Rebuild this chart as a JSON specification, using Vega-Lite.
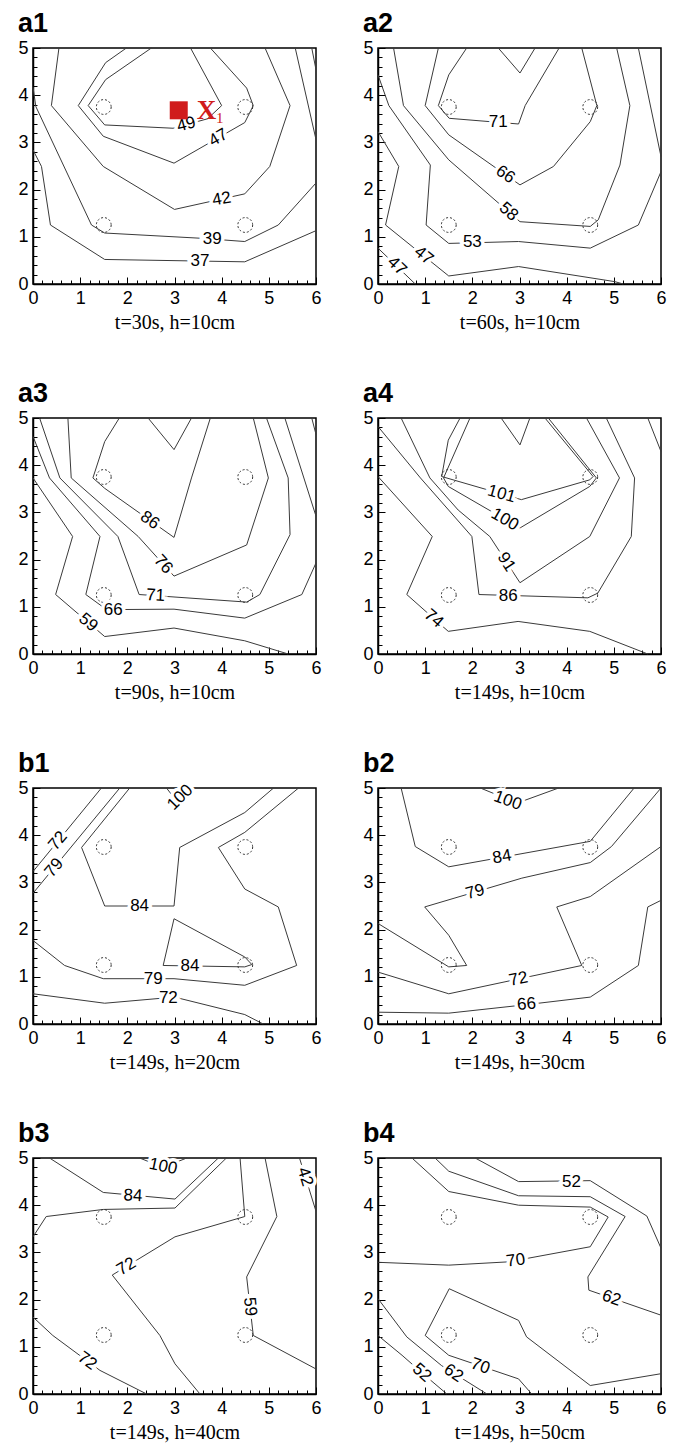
{
"$schema":"https://vega.github.io/schema/vega-lite/v6.json",
"background":"white",
"padding":{"left":17,"top":9,"right":0,"bottom":0},
"datasets":{
"circles":[{"x":1.5,"y":1.25},{"x":4.5,"y":1.25},{"x":1.5,"y":3.75},{"x":4.5,"y":3.75}],
"lines":[
{"p":"a1","c":1,"i":1,"x":0,"y":2.84},{"p":"a1","c":1,"i":2,"x":0.18,"y":2.49},{"p":"a1","c":1,"i":3,"x":0.37,"y":1.25},{"p":"a1","c":1,"i":4,"x":1.52,"y":0.52},{"p":"a1","c":1,"i":5,"x":4.49,"y":0.47},{"p":"a1","c":1,"i":6,"x":6,"y":1.13},
{"p":"a1","c":2,"i":1,"x":0,"y":4.17},{"p":"a1","c":2,"i":2,"x":0.06,"y":3.76},{"p":"a1","c":2,"i":3,"x":1.24,"y":1.25},{"p":"a1","c":2,"i":4,"x":1.52,"y":1.08},{"p":"a1","c":2,"i":5,"x":3.54,"y":0.97},{"p":"a1","c":2,"i":6,"x":4.49,"y":0.9},{"p":"a1","c":2,"i":7,"x":5.2,"y":1.25},{"p":"a1","c":2,"i":8,"x":6,"y":2.14},
{"p":"a1","c":3,"i":1,"x":0.55,"y":5},{"p":"a1","c":3,"i":2,"x":0.39,"y":3.78},{"p":"a1","c":3,"i":3,"x":1.49,"y":2.49},{"p":"a1","c":3,"i":4,"x":3.0,"y":1.58},{"p":"a1","c":3,"i":5,"x":4.49,"y":1.91},{"p":"a1","c":3,"i":6,"x":5.02,"y":2.49},{"p":"a1","c":3,"i":7,"x":5.45,"y":3.78},{"p":"a1","c":3,"i":8,"x":4.92,"y":5},
{"p":"a1","c":4,"i":1,"x":1.98,"y":5},{"p":"a1","c":4,"i":2,"x":1.54,"y":4.69},{"p":"a1","c":4,"i":3,"x":0.96,"y":3.78},{"p":"a1","c":4,"i":4,"x":1.49,"y":3.13},{"p":"a1","c":4,"i":5,"x":2.99,"y":2.56},{"p":"a1","c":4,"i":6,"x":4.49,"y":3.42},{"p":"a1","c":4,"i":7,"x":4.67,"y":3.78},{"p":"a1","c":4,"i":8,"x":4.53,"y":4.15},{"p":"a1","c":4,"i":9,"x":3.76,"y":5},
{"p":"a1","c":5,"i":1,"x":2.51,"y":5},{"p":"a1","c":5,"i":2,"x":1.54,"y":4.33},{"p":"a1","c":5,"i":3,"x":1.17,"y":3.78},{"p":"a1","c":5,"i":4,"x":1.52,"y":3.37},{"p":"a1","c":5,"i":5,"x":2.97,"y":3.3},{"p":"a1","c":5,"i":6,"x":3.7,"y":3.5},{"p":"a1","c":5,"i":7,"x":4.0,"y":3.78},{"p":"a1","c":5,"i":8,"x":3.34,"y":5},
{"p":"a1","c":6,"i":1,"x":5.56,"y":5},{"p":"a1","c":6,"i":2,"x":6,"y":3.06},
{"p":"a1","c":7,"i":1,"x":5.91,"y":5},{"p":"a1","c":7,"i":2,"x":6,"y":4.54},

{"p":"a2","c":1,"i":1,"x":0,"y":0.76},{"p":"a2","c":1,"i":2,"x":0.79,"y":0},
{"p":"a2","c":2,"i":1,"x":0,"y":3.23},{"p":"a2","c":2,"i":2,"x":0.44,"y":2.49},{"p":"a2","c":2,"i":3,"x":0.16,"y":1.25},{"p":"a2","c":2,"i":4,"x":1.5,"y":0.17},{"p":"a2","c":2,"i":5,"x":2.98,"y":0.37},{"p":"a2","c":2,"i":6,"x":5.02,"y":0.05},{"p":"a2","c":2,"i":7,"x":5.2,"y":0},
{"p":"a2","c":3,"i":1,"x":0,"y":4.43},{"p":"a2","c":3,"i":2,"x":0.23,"y":3.78},{"p":"a2","c":3,"i":3,"x":1.11,"y":2.52},{"p":"a2","c":3,"i":4,"x":1.02,"y":1.25},{"p":"a2","c":3,"i":5,"x":1.5,"y":0.86},{"p":"a2","c":3,"i":6,"x":2.98,"y":0.9},{"p":"a2","c":3,"i":7,"x":4.5,"y":0.76},{"p":"a2","c":3,"i":8,"x":5.52,"y":1.25},{"p":"a2","c":3,"i":9,"x":6,"y":2.38},
{"p":"a2","c":4,"i":1,"x":0.33,"y":5},{"p":"a2","c":4,"i":2,"x":0.54,"y":3.78},{"p":"a2","c":4,"i":3,"x":1.5,"y":2.63},{"p":"a2","c":4,"i":4,"x":3.01,"y":1.32},{"p":"a2","c":4,"i":5,"x":4.5,"y":1.22},{"p":"a2","c":4,"i":6,"x":4.67,"y":1.36},{"p":"a2","c":4,"i":7,"x":5.13,"y":2.52},{"p":"a2","c":4,"i":8,"x":5.34,"y":3.78},{"p":"a2","c":4,"i":9,"x":5.06,"y":5},
{"p":"a2","c":5,"i":1,"x":1.28,"y":5},{"p":"a2","c":5,"i":2,"x":1.0,"y":3.78},{"p":"a2","c":5,"i":3,"x":1.5,"y":3.16},{"p":"a2","c":5,"i":4,"x":3.01,"y":2.1},{"p":"a2","c":5,"i":5,"x":3.72,"y":2.49},{"p":"a2","c":5,"i":6,"x":4.5,"y":3.44},{"p":"a2","c":5,"i":7,"x":4.64,"y":3.78},{"p":"a2","c":5,"i":8,"x":4.32,"y":5},
{"p":"a2","c":6,"i":1,"x":1.88,"y":5},{"p":"a2","c":6,"i":2,"x":1.5,"y":4.43},{"p":"a2","c":6,"i":3,"x":1.28,"y":3.78},{"p":"a2","c":6,"i":4,"x":1.51,"y":3.51},{"p":"a2","c":6,"i":5,"x":2.98,"y":3.39},{"p":"a2","c":6,"i":6,"x":3.12,"y":3.78},{"p":"a2","c":6,"i":7,"x":3.84,"y":5},
{"p":"a2","c":7,"i":1,"x":2.55,"y":5},{"p":"a2","c":7,"i":2,"x":3.01,"y":4.47},{"p":"a2","c":7,"i":3,"x":3.33,"y":5},
{"p":"a2","c":8,"i":1,"x":5.52,"y":5},{"p":"a2","c":8,"i":2,"x":6,"y":2.7},

{"p":"a3","c":1,"i":1,"x":0,"y":3.73},{"p":"a3","c":1,"i":2,"x":0.84,"y":2.49},{"p":"a3","c":1,"i":3,"x":0.48,"y":1.26},{"p":"a3","c":1,"i":4,"x":1.52,"y":0.37},{"p":"a3","c":1,"i":5,"x":2.99,"y":0.55},{"p":"a3","c":1,"i":6,"x":4.49,"y":0.28},{"p":"a3","c":1,"i":7,"x":5.41,"y":0},
{"p":"a3","c":2,"i":1,"x":0,"y":4.61},{"p":"a3","c":2,"i":2,"x":0.35,"y":3.73},{"p":"a3","c":2,"i":3,"x":1.42,"y":2.49},{"p":"a3","c":2,"i":4,"x":1.12,"y":1.26},{"p":"a3","c":2,"i":5,"x":1.56,"y":0.94},{"p":"a3","c":2,"i":6,"x":2.99,"y":0.95},{"p":"a3","c":2,"i":7,"x":4.49,"y":0.76},{"p":"a3","c":2,"i":8,"x":5.7,"y":1.26},{"p":"a3","c":2,"i":9,"x":6,"y":1.93},
{"p":"a3","c":3,"i":1,"x":0.14,"y":5},{"p":"a3","c":3,"i":2,"x":0.57,"y":3.73},{"p":"a3","c":3,"i":3,"x":1.8,"y":2.49},{"p":"a3","c":3,"i":4,"x":2.25,"y":1.26},{"p":"a3","c":3,"i":5,"x":4.53,"y":1.1},{"p":"a3","c":3,"i":6,"x":4.81,"y":1.26},{"p":"a3","c":3,"i":7,"x":5.45,"y":2.53},{"p":"a3","c":3,"i":8,"x":5.41,"y":3.73},{"p":"a3","c":3,"i":9,"x":4.95,"y":5},
{"p":"a3","c":4,"i":1,"x":0.74,"y":5},{"p":"a3","c":4,"i":2,"x":0.81,"y":3.73},{"p":"a3","c":4,"i":3,"x":2.23,"y":2.49},{"p":"a3","c":4,"i":4,"x":2.99,"y":1.65},{"p":"a3","c":4,"i":5,"x":4.53,"y":2.31},{"p":"a3","c":4,"i":6,"x":4.99,"y":3.73},{"p":"a3","c":4,"i":7,"x":4.67,"y":5},
{"p":"a3","c":5,"i":1,"x":1.83,"y":5},{"p":"a3","c":5,"i":2,"x":1.52,"y":4.5},{"p":"a3","c":5,"i":3,"x":1.27,"y":3.73},{"p":"a3","c":5,"i":4,"x":1.52,"y":3.51},{"p":"a3","c":5,"i":5,"x":2.99,"y":2.47},{"p":"a3","c":5,"i":6,"x":3.36,"y":3.73},{"p":"a3","c":5,"i":7,"x":3.76,"y":5},
{"p":"a3","c":6,"i":1,"x":2.44,"y":5},{"p":"a3","c":6,"i":2,"x":2.99,"y":4.33},{"p":"a3","c":6,"i":3,"x":3.36,"y":5},
{"p":"a3","c":7,"i":1,"x":5.34,"y":5},{"p":"a3","c":7,"i":2,"x":6,"y":2.92},
{"p":"a3","c":8,"i":1,"x":5.91,"y":5},{"p":"a3","c":8,"i":2,"x":6,"y":4.65},

{"p":"a4","c":1,"i":1,"x":0,"y":3.76},{"p":"a4","c":1,"i":2,"x":1.15,"y":2.49},{"p":"a4","c":1,"i":3,"x":0.61,"y":1.26},{"p":"a4","c":1,"i":4,"x":1.49,"y":0.48},{"p":"a4","c":1,"i":5,"x":2.97,"y":0.69},{"p":"a4","c":1,"i":6,"x":4.49,"y":0.48},{"p":"a4","c":1,"i":7,"x":5.72,"y":0},
{"p":"a4","c":2,"i":1,"x":0,"y":4.82},{"p":"a4","c":2,"i":2,"x":0.9,"y":3.73},{"p":"a4","c":2,"i":3,"x":1.99,"y":2.49},{"p":"a4","c":2,"i":4,"x":2.14,"y":1.26},{"p":"a4","c":2,"i":5,"x":4.45,"y":1.19},{"p":"a4","c":2,"i":6,"x":4.66,"y":1.29},{"p":"a4","c":2,"i":7,"x":5.37,"y":2.49},{"p":"a4","c":2,"i":8,"x":5.44,"y":3.73},{"p":"a4","c":2,"i":9,"x":4.84,"y":5},
{"p":"a4","c":3,"i":1,"x":0.49,"y":5},{"p":"a4","c":3,"i":2,"x":1.1,"y":3.73},{"p":"a4","c":3,"i":3,"x":1.7,"y":3.05},{"p":"a4","c":3,"i":4,"x":2.37,"y":2.49},{"p":"a4","c":3,"i":5,"x":3.01,"y":1.51},{"p":"a4","c":3,"i":6,"x":4.49,"y":2.49},{"p":"a4","c":3,"i":7,"x":5.12,"y":3.73},{"p":"a4","c":3,"i":8,"x":4.42,"y":5},
{"p":"a4","c":4,"i":1,"x":1.95,"y":5},{"p":"a4","c":4,"i":2,"x":1.39,"y":3.73},{"p":"a4","c":4,"i":3,"x":1.49,"y":3.55},{"p":"a4","c":4,"i":4,"x":3.01,"y":2.67},{"p":"a4","c":4,"i":5,"x":4.49,"y":3.55},{"p":"a4","c":4,"i":6,"x":4.63,"y":3.73},{"p":"a4","c":4,"i":7,"x":3.61,"y":5},
{"p":"a4","c":5,"i":1,"x":1.74,"y":5},{"p":"a4","c":5,"i":2,"x":1.49,"y":4.53},{"p":"a4","c":5,"i":3,"x":1.35,"y":3.76},{"p":"a4","c":5,"i":4,"x":3.04,"y":3.27},{"p":"a4","c":5,"i":5,"x":4.49,"y":3.69},{"p":"a4","c":5,"i":6,"x":4.56,"y":3.76},{"p":"a4","c":5,"i":7,"x":3.54,"y":5},
{"p":"a4","c":6,"i":1,"x":2.61,"y":5},{"p":"a4","c":6,"i":2,"x":3.01,"y":4.43},{"p":"a4","c":6,"i":3,"x":3.22,"y":5},
{"p":"a4","c":7,"i":1,"x":5.72,"y":5},{"p":"a4","c":7,"i":2,"x":6,"y":4.29},

{"p":"b1","c":1,"i":1,"x":0,"y":0.64},{"p":"b1","c":1,"i":2,"x":1.52,"y":0.44},{"p":"b1","c":1,"i":3,"x":3.0,"y":0.57},{"p":"b1","c":1,"i":4,"x":4.49,"y":0.2},{"p":"b1","c":1,"i":5,"x":4.88,"y":0},
{"p":"b1","c":2,"i":1,"x":0,"y":1.77},{"p":"b1","c":2,"i":2,"x":0.67,"y":1.24},{"p":"b1","c":2,"i":3,"x":1.49,"y":0.96},{"p":"b1","c":2,"i":4,"x":2.99,"y":0.96},{"p":"b1","c":2,"i":5,"x":4.49,"y":0.82},{"p":"b1","c":2,"i":6,"x":5.59,"y":1.24},{"p":"b1","c":2,"i":7,"x":5.2,"y":2.48},{"p":"b1","c":2,"i":8,"x":4.49,"y":2.86},{"p":"b1","c":2,"i":9,"x":3.93,"y":3.74},{"p":"b1","c":2,"i":10,"x":4.49,"y":4.06},{"p":"b1","c":2,"i":11,"x":5.63,"y":5},
{"p":"b1","c":3,"i":1,"x":2.99,"y":2.23},{"p":"b1","c":3,"i":2,"x":2.76,"y":1.24},{"p":"b1","c":3,"i":3,"x":4.49,"y":1.21},{"p":"b1","c":3,"i":4,"x":4.64,"y":1.26},{"p":"b1","c":3,"i":5,"x":4.49,"y":1.42},{"p":"b1","c":3,"i":6,"x":2.99,"y":2.23},
{"p":"b1","c":4,"i":1,"x":2.05,"y":5},{"p":"b1","c":4,"i":2,"x":1.03,"y":3.74},{"p":"b1","c":4,"i":3,"x":1.52,"y":2.5},{"p":"b1","c":4,"i":4,"x":2.99,"y":2.5},{"p":"b1","c":4,"i":5,"x":3.11,"y":3.74},{"p":"b1","c":4,"i":6,"x":4.49,"y":4.48},{"p":"b1","c":4,"i":7,"x":5.1,"y":5},
{"p":"b1","c":5,"i":1,"x":2.83,"y":5},{"p":"b1","c":5,"i":2,"x":2.97,"y":4.82},{"p":"b1","c":5,"i":3,"x":3.2,"y":4.78},{"p":"b1","c":5,"i":4,"x":3.4,"y":5},
{"p":"b1","c":6,"i":1,"x":0,"y":3.23},{"p":"b1","c":6,"i":2,"x":1.45,"y":5},
{"p":"b1","c":7,"i":1,"x":0,"y":2.77},{"p":"b1","c":7,"i":2,"x":1.84,"y":5},

{"p":"b2","c":1,"i":1,"x":0,"y":0.25},{"p":"b2","c":1,"i":2,"x":1.5,"y":0.23},{"p":"b2","c":1,"i":3,"x":3.15,"y":0.41},{"p":"b2","c":1,"i":4,"x":4.5,"y":0.57},{"p":"b2","c":1,"i":5,"x":5.52,"y":1.24},{"p":"b2","c":1,"i":6,"x":5.72,"y":2.48},{"p":"b2","c":1,"i":7,"x":6,"y":2.62},
{"p":"b2","c":2,"i":1,"x":0,"y":1.1},{"p":"b2","c":2,"i":2,"x":1.5,"y":0.64},{"p":"b2","c":2,"i":3,"x":4.32,"y":1.24},{"p":"b2","c":2,"i":4,"x":3.79,"y":2.48},{"p":"b2","c":2,"i":5,"x":4.5,"y":2.7},{"p":"b2","c":2,"i":6,"x":6,"y":3.76},
{"p":"b2","c":3,"i":1,"x":0,"y":2.13},{"p":"b2","c":3,"i":2,"x":1.5,"y":1.21},{"p":"b2","c":3,"i":3,"x":1.88,"y":1.24},{"p":"b2","c":3,"i":4,"x":1.5,"y":1.88},{"p":"b2","c":3,"i":5,"x":0.99,"y":2.48},{"p":"b2","c":3,"i":6,"x":3.05,"y":3.09},{"p":"b2","c":3,"i":7,"x":4.5,"y":3.42},{"p":"b2","c":3,"i":8,"x":4.95,"y":3.76},{"p":"b2","c":3,"i":9,"x":6,"y":5},
{"p":"b2","c":4,"i":1,"x":0.49,"y":5},{"p":"b2","c":4,"i":2,"x":0.79,"y":3.76},{"p":"b2","c":4,"i":3,"x":1.5,"y":3.33},{"p":"b2","c":4,"i":4,"x":4.5,"y":3.87},{"p":"b2","c":4,"i":5,"x":5.43,"y":5},
{"p":"b2","c":5,"i":1,"x":2.17,"y":5},{"p":"b2","c":5,"i":2,"x":2.95,"y":4.68},{"p":"b2","c":5,"i":3,"x":3.83,"y":5},

{"p":"b3","c":1,"i":1,"x":0,"y":1.63},{"p":"b3","c":1,"i":2,"x":0.42,"y":1.24},{"p":"b3","c":1,"i":3,"x":1.42,"y":0.5},{"p":"b3","c":1,"i":4,"x":2.41,"y":0},
{"p":"b3","c":2,"i":1,"x":3.54,"y":0},{"p":"b3","c":2,"i":2,"x":3.01,"y":0.64},{"p":"b3","c":2,"i":3,"x":2.69,"y":1.24},{"p":"b3","c":2,"i":4,"x":1.68,"y":2.52},{"p":"b3","c":2,"i":5,"x":3.01,"y":3.33},{"p":"b3","c":2,"i":6,"x":4.49,"y":3.76},{"p":"b3","c":2,"i":7,"x":4.39,"y":5},
{"p":"b3","c":3,"i":1,"x":4.92,"y":5},{"p":"b3","c":3,"i":2,"x":5.17,"y":3.76},{"p":"b3","c":3,"i":3,"x":4.53,"y":2.48},{"p":"b3","c":3,"i":4,"x":4.67,"y":1.24},{"p":"b3","c":3,"i":5,"x":6,"y":0.53},
{"p":"b3","c":4,"i":1,"x":5.65,"y":5},{"p":"b3","c":4,"i":2,"x":6,"y":3.87},
{"p":"b3","c":5,"i":1,"x":0.35,"y":5},{"p":"b3","c":5,"i":2,"x":1.49,"y":4.27},{"p":"b3","c":5,"i":3,"x":3.01,"y":4.13},{"p":"b3","c":5,"i":4,"x":3.93,"y":5},
{"p":"b3","c":6,"i":1,"x":0,"y":3.33},{"p":"b3","c":6,"i":2,"x":0.28,"y":3.76},{"p":"b3","c":6,"i":3,"x":1.49,"y":3.91},{"p":"b3","c":6,"i":4,"x":3.01,"y":3.94},{"p":"b3","c":6,"i":5,"x":4.1,"y":5},
{"p":"b3","c":7,"i":1,"x":2.26,"y":5},{"p":"b3","c":7,"i":2,"x":2.76,"y":4.8},{"p":"b3","c":7,"i":3,"x":3.26,"y":5},

{"p":"b4","c":1,"i":1,"x":0,"y":1.24},{"p":"b4","c":1,"i":2,"x":0.51,"y":0.82},{"p":"b4","c":1,"i":3,"x":1.0,"y":0.39},{"p":"b4","c":1,"i":4,"x":1.46,"y":0},
{"p":"b4","c":2,"i":1,"x":0,"y":2.02},{"p":"b4","c":2,"i":2,"x":0.61,"y":1.21},{"p":"b4","c":2,"i":3,"x":1.35,"y":0.6},{"p":"b4","c":2,"i":4,"x":2.31,"y":0},
{"p":"b4","c":3,"i":1,"x":3.26,"y":0},{"p":"b4","c":3,"i":2,"x":2.98,"y":0.32},{"p":"b4","c":3,"i":3,"x":1.5,"y":0.82},{"p":"b4","c":3,"i":4,"x":1.0,"y":1.24},{"p":"b4","c":3,"i":5,"x":1.51,"y":2.23},{"p":"b4","c":3,"i":6,"x":2.98,"y":1.56},{"p":"b4","c":3,"i":7,"x":3.15,"y":1.21},{"p":"b4","c":3,"i":8,"x":4.5,"y":0.18},{"p":"b4","c":3,"i":9,"x":6,"y":0.43},
{"p":"b4","c":4,"i":1,"x":0.72,"y":5},{"p":"b4","c":4,"i":2,"x":1.5,"y":4.29},{"p":"b4","c":4,"i":3,"x":2.98,"y":4.0},{"p":"b4","c":4,"i":4,"x":4.5,"y":3.96},{"p":"b4","c":4,"i":5,"x":4.88,"y":3.75},{"p":"b4","c":4,"i":6,"x":4.5,"y":3.12},{"p":"b4","c":4,"i":7,"x":2.77,"y":2.8},{"p":"b4","c":4,"i":8,"x":1.5,"y":2.73},{"p":"b4","c":4,"i":9,"x":0,"y":2.79},
{"p":"b4","c":5,"i":1,"x":1.21,"y":5},{"p":"b4","c":5,"i":2,"x":1.5,"y":4.72},{"p":"b4","c":5,"i":3,"x":2.98,"y":4.2},{"p":"b4","c":5,"i":4,"x":4.5,"y":4.18},{"p":"b4","c":5,"i":5,"x":5.24,"y":3.76},{"p":"b4","c":5,"i":6,"x":4.45,"y":2.48},{"p":"b4","c":5,"i":7,"x":4.47,"y":2.2},{"p":"b4","c":5,"i":8,"x":6,"y":1.67},
{"p":"b4","c":6,"i":1,"x":2.06,"y":5},{"p":"b4","c":6,"i":2,"x":2.98,"y":4.5},{"p":"b4","c":6,"i":3,"x":4.5,"y":4.52},{"p":"b4","c":6,"i":4,"x":5.7,"y":3.77},{"p":"b4","c":6,"i":5,"x":6,"y":3.09}
],
"labels":[
{"p":"a1","t":"49","x":3.25,"y":3.38,"a":-15},{"p":"a1","t":"47","x":3.93,"y":3.1,"a":-30},{"p":"a1","t":"42","x":4.0,"y":1.8,"a":-10},{"p":"a1","t":"39","x":3.8,"y":0.95,"a":0},{"p":"a1","t":"37","x":3.54,"y":0.49,"a":0},
{"p":"a2","t":"71","x":2.55,"y":3.43,"a":0},{"p":"a2","t":"66","x":2.7,"y":2.32,"a":35},{"p":"a2","t":"58","x":2.77,"y":1.53,"a":41},{"p":"a2","t":"53","x":2.0,"y":0.88,"a":0},{"p":"a2","t":"47","x":0.97,"y":0.6,"a":39},{"p":"a2","t":"47","x":0.4,"y":0.38,"a":44},
{"p":"a3","t":"86","x":2.48,"y":2.83,"a":35},{"p":"a3","t":"76","x":2.76,"y":1.9,"a":48},{"p":"a3","t":"71","x":2.6,"y":1.24,"a":3},{"p":"a3","t":"66","x":1.7,"y":0.94,"a":0},{"p":"a3","t":"59","x":1.17,"y":0.67,"a":40},
{"p":"a4","t":"101","x":2.62,"y":3.39,"a":16},{"p":"a4","t":"100","x":2.69,"y":2.85,"a":30},{"p":"a4","t":"91","x":2.72,"y":1.95,"a":57},{"p":"a4","t":"86","x":2.76,"y":1.22,"a":0},{"p":"a4","t":"74","x":1.18,"y":0.75,"a":41},
{"p":"b1","t":"100","x":3.12,"y":4.8,"a":-45},{"p":"b1","t":"72","x":0.53,"y":3.88,"a":-50},{"p":"b1","t":"79","x":0.45,"y":3.31,"a":-50},{"p":"b1","t":"84","x":2.26,"y":2.5,"a":0},{"p":"b1","t":"84","x":3.33,"y":1.22,"a":0},{"p":"b1","t":"79","x":2.55,"y":0.96,"a":0},{"p":"b1","t":"72","x":2.87,"y":0.56,"a":0},
{"p":"b2","t":"100","x":2.75,"y":4.73,"a":20},{"p":"b2","t":"84","x":2.63,"y":3.54,"a":-10},{"p":"b2","t":"79","x":2.06,"y":2.8,"a":-16},{"p":"b2","t":"72","x":2.98,"y":0.95,"a":-12},{"p":"b2","t":"66","x":3.15,"y":0.42,"a":-5},
{"p":"b3","t":"100","x":2.76,"y":4.82,"a":12},{"p":"b3","t":"84","x":2.12,"y":4.2,"a":3},{"p":"b3","t":"72","x":1.98,"y":2.7,"a":-31},{"p":"b3","t":"72","x":1.15,"y":0.7,"a":36},{"p":"b3","t":"59","x":4.6,"y":1.85,"a":84},{"p":"b3","t":"42","x":5.77,"y":4.6,"a":73},
{"p":"b4","t":"52","x":4.1,"y":4.49,"a":0},{"p":"b4","t":"70","x":2.92,"y":2.83,"a":-8},{"p":"b4","t":"62","x":4.95,"y":2.03,"a":19},{"p":"b4","t":"70","x":2.17,"y":0.59,"a":19},{"p":"b4","t":"62","x":1.6,"y":0.44,"a":34},{"p":"b4","t":"52","x":0.93,"y":0.45,"a":41}
]
},
"config":{
"view":{"stroke":"black","strokeWidth":1.5},
"axis":{"domainColor":"black","domainWidth":1.5,"tickColor":"black","tickWidth":1,"labelFont":"Liberation Sans","labelFontSize":18,"labelColor":"black","titleFont":"Liberation Serif","titleFontSize":20,"titleFontWeight":"normal","titleColor":"black","labelOverlap":false,"labelFlush":false,"grid":false},
"title":{"font":"Liberation Sans","fontSize":27,"fontWeight":"bold","anchor":"start","dx":0,"offset":1,"color":"black"},
"concat":{"spacing":40}
},
"vconcat":[
{"hconcat":[
{"title":"a1","width":283,"height":236,
"encoding":{"x":{"field":"x","type":"quantitative","scale":{"domain":[0,6],"nice":false},"axis":{"title":"t=30s, h=10cm","values":[0,0.2,0.4,0.6,0.8,1,1.2,1.4,1.6,1.8,2,2.2,2.4,2.6,2.8,3,3.2,3.4,3.6,3.8,4,4.2,4.4,4.6,4.8,5,5.2,5.4,5.6,5.8,6],"labelExpr":"datum.value % 1 == 0 ? datum.value : ''","tickSize":{"condition":{"test":"datum.value % 1 == 0","value":-7},"value":-4},"labelPadding":12,"titlePadding":2}},
"y":{"field":"y","type":"quantitative","scale":{"domain":[0,5],"nice":false},"axis":{"title":null,"values":[0,0.2,0.4,0.6,0.8,1,1.2,1.4,1.6,1.8,2,2.2,2.4,2.6,2.8,3,3.2,3.4,3.6,3.8,4,4.2,4.4,4.6,4.8,5],"labelExpr":"datum.value % 1 == 0 ? datum.value : ''","tickSize":{"condition":{"test":"datum.value % 1 == 0","value":-7},"value":-4},"labelPadding":12}}},
"layer":[
{"data":{"name":"lines"},"transform":[{"filter":"datum.p=='a1'"}],"mark":{"type":"line","color":"#3a3a3a","strokeWidth":1},"encoding":{"detail":{"field":"c","type":"nominal"},"order":{"field":"i","type":"quantitative"}}},
{"data":{"name":"circles"},"mark":{"type":"point","shape":"circle","size":220,"filled":false,"stroke":"#333","strokeWidth":1,"strokeDash":[2,2],"opacity":1}},
{"data":{"name":"labels"},"transform":[{"filter":"datum.p=='a1'"}],"mark":{"type":"text","font":"Liberation Sans","fontSize":17,"fill":"white","stroke":"white","strokeWidth":7},"encoding":{"text":{"field":"t"},"angle":{"field":"a","type":"quantitative","scale":null}}},
{"data":{"name":"labels"},"transform":[{"filter":"datum.p=='a1'"}],"mark":{"type":"text","font":"Liberation Sans","fontSize":17,"fill":"black"},"encoding":{"text":{"field":"t"},"angle":{"field":"a","type":"quantitative","scale":null}}},
{"data":{"values":[{"x":3.09,"y":3.68}]},"mark":{"type":"point","shape":"square","size":324,"filled":true,"color":"#d01c1c","opacity":1}},
{"data":{"values":[{"x":3.68,"y":3.66,"t":"X"}]},"mark":{"type":"text","font":"Liberation Serif","fontSize":27,"fontWeight":"bold","fill":"#d01c1c"},"encoding":{"text":{"field":"t"}}},
{"data":{"values":[{"x":3.96,"y":3.52,"t":"1"}]},"mark":{"type":"text","font":"Liberation Serif","fontSize":15,"fill":"#d01c1c"},"encoding":{"text":{"field":"t"}}}
]},
{"title":"a2","width":283,"height":236,
"encoding":{"x":{"field":"x","type":"quantitative","scale":{"domain":[0,6],"nice":false},"axis":{"title":"t=60s, h=10cm","values":[0,0.2,0.4,0.6,0.8,1,1.2,1.4,1.6,1.8,2,2.2,2.4,2.6,2.8,3,3.2,3.4,3.6,3.8,4,4.2,4.4,4.6,4.8,5,5.2,5.4,5.6,5.8,6],"labelExpr":"datum.value % 1 == 0 ? datum.value : ''","tickSize":{"condition":{"test":"datum.value % 1 == 0","value":-7},"value":-4},"labelPadding":12,"titlePadding":2}},
"y":{"field":"y","type":"quantitative","scale":{"domain":[0,5],"nice":false},"axis":{"title":null,"values":[0,0.2,0.4,0.6,0.8,1,1.2,1.4,1.6,1.8,2,2.2,2.4,2.6,2.8,3,3.2,3.4,3.6,3.8,4,4.2,4.4,4.6,4.8,5],"labelExpr":"datum.value % 1 == 0 ? datum.value : ''","tickSize":{"condition":{"test":"datum.value % 1 == 0","value":-7},"value":-4},"labelPadding":12}}},
"layer":[
{"data":{"name":"lines"},"transform":[{"filter":"datum.p=='a2'"}],"mark":{"type":"line","color":"#3a3a3a","strokeWidth":1},"encoding":{"detail":{"field":"c","type":"nominal"},"order":{"field":"i","type":"quantitative"}}},
{"data":{"name":"circles"},"mark":{"type":"point","shape":"circle","size":220,"filled":false,"stroke":"#333","strokeWidth":1,"strokeDash":[2,2],"opacity":1}},
{"data":{"name":"labels"},"transform":[{"filter":"datum.p=='a2'"}],"mark":{"type":"text","font":"Liberation Sans","fontSize":17,"fill":"white","stroke":"white","strokeWidth":7},"encoding":{"text":{"field":"t"},"angle":{"field":"a","type":"quantitative","scale":null}}},
{"data":{"name":"labels"},"transform":[{"filter":"datum.p=='a2'"}],"mark":{"type":"text","font":"Liberation Sans","fontSize":17,"fill":"black"},"encoding":{"text":{"field":"t"},"angle":{"field":"a","type":"quantitative","scale":null}}}
]}
]},
{"hconcat":[
{"title":"a3","width":283,"height":236,
"encoding":{"x":{"field":"x","type":"quantitative","scale":{"domain":[0,6],"nice":false},"axis":{"title":"t=90s, h=10cm","values":[0,0.2,0.4,0.6,0.8,1,1.2,1.4,1.6,1.8,2,2.2,2.4,2.6,2.8,3,3.2,3.4,3.6,3.8,4,4.2,4.4,4.6,4.8,5,5.2,5.4,5.6,5.8,6],"labelExpr":"datum.value % 1 == 0 ? datum.value : ''","tickSize":{"condition":{"test":"datum.value % 1 == 0","value":-7},"value":-4},"labelPadding":12,"titlePadding":2}},
"y":{"field":"y","type":"quantitative","scale":{"domain":[0,5],"nice":false},"axis":{"title":null,"values":[0,0.2,0.4,0.6,0.8,1,1.2,1.4,1.6,1.8,2,2.2,2.4,2.6,2.8,3,3.2,3.4,3.6,3.8,4,4.2,4.4,4.6,4.8,5],"labelExpr":"datum.value % 1 == 0 ? datum.value : ''","tickSize":{"condition":{"test":"datum.value % 1 == 0","value":-7},"value":-4},"labelPadding":12}}},
"layer":[
{"data":{"name":"lines"},"transform":[{"filter":"datum.p=='a3'"}],"mark":{"type":"line","color":"#3a3a3a","strokeWidth":1},"encoding":{"detail":{"field":"c","type":"nominal"},"order":{"field":"i","type":"quantitative"}}},
{"data":{"name":"circles"},"mark":{"type":"point","shape":"circle","size":220,"filled":false,"stroke":"#333","strokeWidth":1,"strokeDash":[2,2],"opacity":1}},
{"data":{"name":"labels"},"transform":[{"filter":"datum.p=='a3'"}],"mark":{"type":"text","font":"Liberation Sans","fontSize":17,"fill":"white","stroke":"white","strokeWidth":7},"encoding":{"text":{"field":"t"},"angle":{"field":"a","type":"quantitative","scale":null}}},
{"data":{"name":"labels"},"transform":[{"filter":"datum.p=='a3'"}],"mark":{"type":"text","font":"Liberation Sans","fontSize":17,"fill":"black"},"encoding":{"text":{"field":"t"},"angle":{"field":"a","type":"quantitative","scale":null}}}
]},
{"title":"a4","width":283,"height":236,
"encoding":{"x":{"field":"x","type":"quantitative","scale":{"domain":[0,6],"nice":false},"axis":{"title":"t=149s, h=10cm","values":[0,0.2,0.4,0.6,0.8,1,1.2,1.4,1.6,1.8,2,2.2,2.4,2.6,2.8,3,3.2,3.4,3.6,3.8,4,4.2,4.4,4.6,4.8,5,5.2,5.4,5.6,5.8,6],"labelExpr":"datum.value % 1 == 0 ? datum.value : ''","tickSize":{"condition":{"test":"datum.value % 1 == 0","value":-7},"value":-4},"labelPadding":12,"titlePadding":2}},
"y":{"field":"y","type":"quantitative","scale":{"domain":[0,5],"nice":false},"axis":{"title":null,"values":[0,0.2,0.4,0.6,0.8,1,1.2,1.4,1.6,1.8,2,2.2,2.4,2.6,2.8,3,3.2,3.4,3.6,3.8,4,4.2,4.4,4.6,4.8,5],"labelExpr":"datum.value % 1 == 0 ? datum.value : ''","tickSize":{"condition":{"test":"datum.value % 1 == 0","value":-7},"value":-4},"labelPadding":12}}},
"layer":[
{"data":{"name":"lines"},"transform":[{"filter":"datum.p=='a4'"}],"mark":{"type":"line","color":"#3a3a3a","strokeWidth":1},"encoding":{"detail":{"field":"c","type":"nominal"},"order":{"field":"i","type":"quantitative"}}},
{"data":{"name":"circles"},"mark":{"type":"point","shape":"circle","size":220,"filled":false,"stroke":"#333","strokeWidth":1,"strokeDash":[2,2],"opacity":1}},
{"data":{"name":"labels"},"transform":[{"filter":"datum.p=='a4'"}],"mark":{"type":"text","font":"Liberation Sans","fontSize":17,"fill":"white","stroke":"white","strokeWidth":7},"encoding":{"text":{"field":"t"},"angle":{"field":"a","type":"quantitative","scale":null}}},
{"data":{"name":"labels"},"transform":[{"filter":"datum.p=='a4'"}],"mark":{"type":"text","font":"Liberation Sans","fontSize":17,"fill":"black"},"encoding":{"text":{"field":"t"},"angle":{"field":"a","type":"quantitative","scale":null}}}
]}
]},
{"hconcat":[
{"title":"b1","width":283,"height":236,
"encoding":{"x":{"field":"x","type":"quantitative","scale":{"domain":[0,6],"nice":false},"axis":{"title":"t=149s, h=20cm","values":[0,0.2,0.4,0.6,0.8,1,1.2,1.4,1.6,1.8,2,2.2,2.4,2.6,2.8,3,3.2,3.4,3.6,3.8,4,4.2,4.4,4.6,4.8,5,5.2,5.4,5.6,5.8,6],"labelExpr":"datum.value % 1 == 0 ? datum.value : ''","tickSize":{"condition":{"test":"datum.value % 1 == 0","value":-7},"value":-4},"labelPadding":12,"titlePadding":2}},
"y":{"field":"y","type":"quantitative","scale":{"domain":[0,5],"nice":false},"axis":{"title":null,"values":[0,0.2,0.4,0.6,0.8,1,1.2,1.4,1.6,1.8,2,2.2,2.4,2.6,2.8,3,3.2,3.4,3.6,3.8,4,4.2,4.4,4.6,4.8,5],"labelExpr":"datum.value % 1 == 0 ? datum.value : ''","tickSize":{"condition":{"test":"datum.value % 1 == 0","value":-7},"value":-4},"labelPadding":12}}},
"layer":[
{"data":{"name":"lines"},"transform":[{"filter":"datum.p=='b1'"}],"mark":{"type":"line","color":"#3a3a3a","strokeWidth":1},"encoding":{"detail":{"field":"c","type":"nominal"},"order":{"field":"i","type":"quantitative"}}},
{"data":{"name":"circles"},"mark":{"type":"point","shape":"circle","size":220,"filled":false,"stroke":"#333","strokeWidth":1,"strokeDash":[2,2],"opacity":1}},
{"data":{"name":"labels"},"transform":[{"filter":"datum.p=='b1'"}],"mark":{"type":"text","font":"Liberation Sans","fontSize":17,"fill":"white","stroke":"white","strokeWidth":7},"encoding":{"text":{"field":"t"},"angle":{"field":"a","type":"quantitative","scale":null}}},
{"data":{"name":"labels"},"transform":[{"filter":"datum.p=='b1'"}],"mark":{"type":"text","font":"Liberation Sans","fontSize":17,"fill":"black"},"encoding":{"text":{"field":"t"},"angle":{"field":"a","type":"quantitative","scale":null}}}
]},
{"title":"b2","width":283,"height":236,
"encoding":{"x":{"field":"x","type":"quantitative","scale":{"domain":[0,6],"nice":false},"axis":{"title":"t=149s, h=30cm","values":[0,0.2,0.4,0.6,0.8,1,1.2,1.4,1.6,1.8,2,2.2,2.4,2.6,2.8,3,3.2,3.4,3.6,3.8,4,4.2,4.4,4.6,4.8,5,5.2,5.4,5.6,5.8,6],"labelExpr":"datum.value % 1 == 0 ? datum.value : ''","tickSize":{"condition":{"test":"datum.value % 1 == 0","value":-7},"value":-4},"labelPadding":12,"titlePadding":2}},
"y":{"field":"y","type":"quantitative","scale":{"domain":[0,5],"nice":false},"axis":{"title":null,"values":[0,0.2,0.4,0.6,0.8,1,1.2,1.4,1.6,1.8,2,2.2,2.4,2.6,2.8,3,3.2,3.4,3.6,3.8,4,4.2,4.4,4.6,4.8,5],"labelExpr":"datum.value % 1 == 0 ? datum.value : ''","tickSize":{"condition":{"test":"datum.value % 1 == 0","value":-7},"value":-4},"labelPadding":12}}},
"layer":[
{"data":{"name":"lines"},"transform":[{"filter":"datum.p=='b2'"}],"mark":{"type":"line","color":"#3a3a3a","strokeWidth":1},"encoding":{"detail":{"field":"c","type":"nominal"},"order":{"field":"i","type":"quantitative"}}},
{"data":{"name":"circles"},"mark":{"type":"point","shape":"circle","size":220,"filled":false,"stroke":"#333","strokeWidth":1,"strokeDash":[2,2],"opacity":1}},
{"data":{"name":"labels"},"transform":[{"filter":"datum.p=='b2'"}],"mark":{"type":"text","font":"Liberation Sans","fontSize":17,"fill":"white","stroke":"white","strokeWidth":7},"encoding":{"text":{"field":"t"},"angle":{"field":"a","type":"quantitative","scale":null}}},
{"data":{"name":"labels"},"transform":[{"filter":"datum.p=='b2'"}],"mark":{"type":"text","font":"Liberation Sans","fontSize":17,"fill":"black"},"encoding":{"text":{"field":"t"},"angle":{"field":"a","type":"quantitative","scale":null}}}
]}
]},
{"hconcat":[
{"title":"b3","width":283,"height":236,
"encoding":{"x":{"field":"x","type":"quantitative","scale":{"domain":[0,6],"nice":false},"axis":{"title":"t=149s, h=40cm","values":[0,0.2,0.4,0.6,0.8,1,1.2,1.4,1.6,1.8,2,2.2,2.4,2.6,2.8,3,3.2,3.4,3.6,3.8,4,4.2,4.4,4.6,4.8,5,5.2,5.4,5.6,5.8,6],"labelExpr":"datum.value % 1 == 0 ? datum.value : ''","tickSize":{"condition":{"test":"datum.value % 1 == 0","value":-7},"value":-4},"labelPadding":12,"titlePadding":2}},
"y":{"field":"y","type":"quantitative","scale":{"domain":[0,5],"nice":false},"axis":{"title":null,"values":[0,0.2,0.4,0.6,0.8,1,1.2,1.4,1.6,1.8,2,2.2,2.4,2.6,2.8,3,3.2,3.4,3.6,3.8,4,4.2,4.4,4.6,4.8,5],"labelExpr":"datum.value % 1 == 0 ? datum.value : ''","tickSize":{"condition":{"test":"datum.value % 1 == 0","value":-7},"value":-4},"labelPadding":12}}},
"layer":[
{"data":{"name":"lines"},"transform":[{"filter":"datum.p=='b3'"}],"mark":{"type":"line","color":"#3a3a3a","strokeWidth":1},"encoding":{"detail":{"field":"c","type":"nominal"},"order":{"field":"i","type":"quantitative"}}},
{"data":{"name":"circles"},"mark":{"type":"point","shape":"circle","size":220,"filled":false,"stroke":"#333","strokeWidth":1,"strokeDash":[2,2],"opacity":1}},
{"data":{"name":"labels"},"transform":[{"filter":"datum.p=='b3'"}],"mark":{"type":"text","font":"Liberation Sans","fontSize":17,"fill":"white","stroke":"white","strokeWidth":7},"encoding":{"text":{"field":"t"},"angle":{"field":"a","type":"quantitative","scale":null}}},
{"data":{"name":"labels"},"transform":[{"filter":"datum.p=='b3'"}],"mark":{"type":"text","font":"Liberation Sans","fontSize":17,"fill":"black"},"encoding":{"text":{"field":"t"},"angle":{"field":"a","type":"quantitative","scale":null}}}
]},
{"title":"b4","width":283,"height":236,
"encoding":{"x":{"field":"x","type":"quantitative","scale":{"domain":[0,6],"nice":false},"axis":{"title":"t=149s, h=50cm","values":[0,0.2,0.4,0.6,0.8,1,1.2,1.4,1.6,1.8,2,2.2,2.4,2.6,2.8,3,3.2,3.4,3.6,3.8,4,4.2,4.4,4.6,4.8,5,5.2,5.4,5.6,5.8,6],"labelExpr":"datum.value % 1 == 0 ? datum.value : ''","tickSize":{"condition":{"test":"datum.value % 1 == 0","value":-7},"value":-4},"labelPadding":12,"titlePadding":2}},
"y":{"field":"y","type":"quantitative","scale":{"domain":[0,5],"nice":false},"axis":{"title":null,"values":[0,0.2,0.4,0.6,0.8,1,1.2,1.4,1.6,1.8,2,2.2,2.4,2.6,2.8,3,3.2,3.4,3.6,3.8,4,4.2,4.4,4.6,4.8,5],"labelExpr":"datum.value % 1 == 0 ? datum.value : ''","tickSize":{"condition":{"test":"datum.value % 1 == 0","value":-7},"value":-4},"labelPadding":12}}},
"layer":[
{"data":{"name":"lines"},"transform":[{"filter":"datum.p=='b4'"}],"mark":{"type":"line","color":"#3a3a3a","strokeWidth":1},"encoding":{"detail":{"field":"c","type":"nominal"},"order":{"field":"i","type":"quantitative"}}},
{"data":{"name":"circles"},"mark":{"type":"point","shape":"circle","size":220,"filled":false,"stroke":"#333","strokeWidth":1,"strokeDash":[2,2],"opacity":1}},
{"data":{"name":"labels"},"transform":[{"filter":"datum.p=='b4'"}],"mark":{"type":"text","font":"Liberation Sans","fontSize":17,"fill":"white","stroke":"white","strokeWidth":7},"encoding":{"text":{"field":"t"},"angle":{"field":"a","type":"quantitative","scale":null}}},
{"data":{"name":"labels"},"transform":[{"filter":"datum.p=='b4'"}],"mark":{"type":"text","font":"Liberation Sans","fontSize":17,"fill":"black"},"encoding":{"text":{"field":"t"},"angle":{"field":"a","type":"quantitative","scale":null}}}
]}
]}
],
"spacing":46
}
